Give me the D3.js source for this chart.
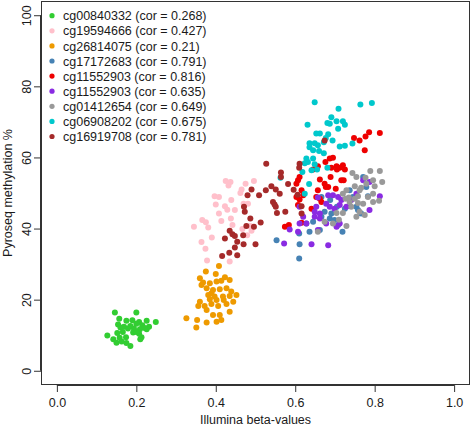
<!DOCTYPE html>
<html><head><meta charset="utf-8">
<script src="https://cdn.jsdelivr.net/npm/d3@7"></script>
<style>body{margin:0;background:#fff}svg{display:block}text{font-family:"Liberation Sans",Arial,sans-serif;fill:#1a1a1a}</style>
</head><body>
<script>
const labels = ["cg00840332 (cor = 0.268)","cg19594666 (cor = 0.427)","cg26814075 (cor = 0.21)","cg17172683 (cor = 0.791)","cg11552903 (cor = 0.816)","cg11552903 (cor = 0.635)","cg01412654 (cor = 0.649)","cg06908202 (cor = 0.675)","cg16919708 (cor = 0.781)"];
const colors = ["#32CD32","#FFC0CB","#EE9A00","#4682B4","#EE0000","#8A2BE2","#999999","#00C8CC","#A52A2A"];
const xTicks = [0,0.2,0.4,0.6,0.8,1.0];
const yTicks = [0,20,40,60,80,100];

const green = [[0.146,16.4],[0.200,16.4],[0.157,14.6],[0.175,14.1],[0.190,14.2],[0.207,13.7],[0.226,14.1],[0.249,13.7],[0.154,13.0],[0.169,12.4],[0.185,12.6],[0.200,13.2],[0.215,12.8],[0.232,12.4],[0.160,12.2],[0.179,11.9],[0.194,11.9],[0.209,11.7],[0.226,11.7],[0.127,9.9],[0.152,10.6],[0.158,9.3],[0.174,9.4],[0.192,10.8],[0.207,10.4],[0.213,9.4],[0.142,8.9],[0.150,7.9],[0.163,8.2],[0.175,7.8],[0.185,7.0],[0.210,8.9],[0.221,12.0],[0.200,10.9],[0.166,10.9]];
const pink = [[0.425,53.4],[0.437,53.1],[0.432,52.1],[0.475,52.6],[0.496,53.4],[0.465,51.0],[0.462,50.0],[0.397,49.1],[0.408,48.9],[0.439,48.0],[0.400,46.8],[0.423,46.3],[0.429,45.3],[0.448,45.2],[0.470,47.0],[0.481,47.0],[0.408,44.2],[0.438,42.8],[0.366,42.4],[0.375,41.8],[0.414,42.1],[0.442,41.0],[0.345,40.5],[0.381,40.3],[0.467,39.9],[0.490,39.4],[0.479,38.1],[0.364,36.2],[0.390,37.5],[0.374,34.3],[0.378,31.0],[0.435,30.7],[0.487,40.7]];
const orange = [[0.408,29.5],[0.375,27.9],[0.360,26.0],[0.400,27.2],[0.423,26.3],[0.368,24.8],[0.385,24.6],[0.402,25.1],[0.414,25.3],[0.435,25.5],[0.377,23.2],[0.393,22.7],[0.410,22.9],[0.427,23.2],[0.439,22.3],[0.381,21.3],[0.397,20.9],[0.418,20.9],[0.435,21.0],[0.452,21.3],[0.360,19.4],[0.385,20.1],[0.402,19.9],[0.420,19.9],[0.444,19.4],[0.356,18.2],[0.372,18.2],[0.389,18.8],[0.406,18.2],[0.427,18.8],[0.377,17.1],[0.393,15.7],[0.410,15.7],[0.435,16.6],[0.326,14.8],[0.353,14.3],[0.377,13.6],[0.402,13.8],[0.414,14.3],[0.351,12.2],[0.364,24.1],[0.389,21.8]];
const steelblue = [[0.553,36.7],[0.611,35.6],[0.610,31.6],[0.628,41.4],[0.645,41.9],[0.666,43.3],[0.674,44.7],[0.691,44.2],[0.699,42.4],[0.719,39.1],[0.725,45.6],[0.737,50.8],[0.754,46.1],[0.766,44.2],[0.771,54.5],[0.779,51.7],[0.783,49.1],[0.666,48.9],[0.688,48.0],[0.705,46.1],[0.745,48.9],[0.636,39.1],[0.610,38.6],[0.708,41.0],[0.662,39.6],[0.687,42.8],[0.758,45.2]];
const red = [[0.748,65.5],[0.762,64.8],[0.777,65.9],[0.786,67.1],[0.813,66.9],[0.775,62.0],[0.676,58.7],[0.687,59.7],[0.695,59.9],[0.704,57.5],[0.712,57.1],[0.691,57.1],[0.720,57.8],[0.725,56.6],[0.705,56.6],[0.657,57.5],[0.645,56.6],[0.611,54.5],[0.607,53.6],[0.616,50.8],[0.620,49.4],[0.603,48.9],[0.611,48.2],[0.662,53.8],[0.674,52.6],[0.677,51.7],[0.657,50.8],[0.653,48.9],[0.662,48.4],[0.702,51.2],[0.716,53.6],[0.722,53.6],[0.689,54.5],[0.683,51.7],[0.574,40.5],[0.584,41.0],[0.616,41.6],[0.603,52.6],[0.666,47.5],[0.641,45.6],[0.607,46.6]];
const purple = [[0.683,49.4],[0.695,49.4],[0.708,48.9],[0.716,48.0],[0.712,46.6],[0.699,45.6],[0.687,46.1],[0.678,47.0],[0.657,48.7],[0.653,46.1],[0.662,44.2],[0.649,43.3],[0.662,42.8],[0.620,43.3],[0.611,41.4],[0.628,41.4],[0.607,39.1],[0.657,39.6],[0.678,41.4],[0.704,40.5],[0.712,41.4],[0.586,39.7],[0.572,35.8],[0.641,35.6],[0.683,35.3],[0.813,49.1],[0.787,53.1],[0.787,45.2],[0.729,46.1],[0.754,49.8],[0.771,53.6],[0.741,48.0],[0.611,46.1],[0.649,44.7]];
const gray = [[0.744,55.6],[0.754,54.5],[0.789,56.2],[0.813,56.2],[0.777,54.3],[0.796,53.6],[0.819,53.1],[0.800,51.9],[0.779,52.6],[0.766,51.5],[0.750,51.9],[0.729,50.8],[0.720,49.8],[0.735,48.7],[0.750,48.4],[0.758,49.1],[0.727,48.4],[0.737,47.5],[0.758,47.2],[0.771,47.0],[0.783,48.9],[0.796,49.8],[0.811,47.8],[0.796,47.5],[0.741,46.1],[0.762,44.7],[0.720,44.4],[0.754,43.3],[0.775,43.8],[0.729,40.7],[0.704,44.4],[0.710,42.5],[0.695,41.4],[0.762,50.8],[0.657,39.1],[0.674,41.9]];
const cyan = [[0.649,75.5],[0.709,73.7],[0.764,74.9],[0.793,75.3],[0.691,71.3],[0.681,69.7],[0.704,70.2],[0.720,70.2],[0.725,69.2],[0.687,69.5],[0.631,69.2],[0.708,68.1],[0.653,66.7],[0.662,66.7],[0.683,66.5],[0.677,65.5],[0.694,64.8],[0.636,64.0],[0.649,64.0],[0.657,63.4],[0.672,64.3],[0.712,63.1],[0.725,63.3],[0.744,63.9],[0.636,62.9],[0.645,62.0],[0.660,61.8],[0.672,61.2],[0.628,59.7],[0.632,58.7],[0.645,59.7],[0.624,58.4],[0.649,58.1],[0.641,56.4],[0.655,56.6],[0.618,55.9],[0.681,57.1],[0.635,52.5],[0.624,49.8],[0.563,54.3]];
const brown = [[0.527,58.2],[0.564,55.8],[0.564,54.5],[0.540,51.9],[0.526,50.8],[0.551,51.0],[0.561,49.8],[0.582,52.5],[0.490,51.0],[0.480,49.4],[0.509,49.4],[0.544,47.5],[0.548,46.8],[0.551,46.1],[0.554,44.4],[0.575,44.7],[0.471,46.1],[0.473,44.7],[0.487,42.8],[0.477,40.7],[0.496,40.5],[0.513,41.7],[0.435,39.4],[0.442,38.4],[0.448,37.9],[0.423,37.2],[0.469,38.1],[0.454,36.3],[0.448,34.7],[0.434,33.2],[0.416,32.3],[0.454,32.5],[0.470,35.6],[0.500,35.6],[0.616,46.3],[0.616,44.2],[0.611,58.2],[0.610,57.1],[0.674,64.8],[0.596,50.9],[0.606,49.5]];

const series = [green, pink, orange, steelblue, red, purple, gray, cyan, brown];

const W = 472, H = 427;
const box = {left: 41, right: 470, top: 1, bottom: 385};
const svg = d3.select("body").append("svg").attr("width", W).attr("height", H);

const x = d3.scaleLinear().domain([-0.04, 1.04]).range([box.left, box.right]);
const y = d3.scaleLinear().domain([-4, 104]).range([box.bottom, box.top]);

// points
series.forEach((pts, i) => {
  svg.append("g").selectAll("circle").data(pts).join("circle")
    .attr("cx", d => x(d[0])).attr("cy", d => y(d[1])).attr("r", 3)
    .attr("fill", colors[i]);
});

// box
svg.append("rect").attr("x", box.left + 0.5).attr("y", box.top + 0.5)
  .attr("width", box.right - box.left - 1).attr("height", box.bottom - box.top - 1)
  .attr("fill", "none").attr("stroke", "#333").attr("stroke-width", 1);

// x axis
const xAxis = d3.axisBottom(x).tickValues(xTicks).tickFormat(d3.format(".1f")).tickSize(7).tickPadding(3);
const gx = svg.append("g").attr("transform", `translate(0,${box.bottom})`).call(xAxis);
gx.select(".domain").attr("d", `M${x(0)},0.5H${x(1)}`).attr("stroke", "#333");
gx.selectAll(".tick line").attr("stroke", "#333");
gx.selectAll("text").attr("font-size", 12.5).attr("font-family", "Liberation Sans, Arial, sans-serif").attr("fill", "#1a1a1a").attr("dy", null).attr("y", 21.5);

// y axis
const yAxis = d3.axisLeft(y).tickValues(yTicks).tickSize(7);
const gy = svg.append("g").attr("transform", `translate(${box.left},0)`).call(yAxis);
gy.select(".domain").attr("d", `M-0.5,${y(0)}V${y(100)}`).attr("stroke", "#333");
gy.selectAll(".tick line").attr("stroke", "#333");
gy.selectAll("text").attr("font-size", 12.5).attr("font-family", "Liberation Sans, Arial, sans-serif").attr("fill", "#1a1a1a")
  .attr("x", null).attr("dy", null).attr("text-anchor", "middle")
  .attr("transform", "translate(-10,0) rotate(-90)");

// axis titles
svg.append("text").attr("x", (box.left + box.right) / 2).attr("y", 424)
  .attr("text-anchor", "middle").attr("font-size", 12.5).text("Illumina beta-values");
svg.append("text").attr("transform", `translate(11.5,${(box.top + box.bottom) / 2}) rotate(-90)`)
  .attr("text-anchor", "middle").attr("font-size", 12.5).text("Pyroseq methylation %");

// legend
const lg = svg.append("g");
labels.forEach((lab, i) => {
  lg.append("circle").attr("cx", 52).attr("cy", 15.7 + 15.1 * i).attr("r", 2.6).attr("fill", colors[i]);
  lg.append("text").attr("x", 63).attr("y", 20.3 + 15.1 * i).attr("font-size", 12.5).text(lab);
});
</script>
</body></html>
